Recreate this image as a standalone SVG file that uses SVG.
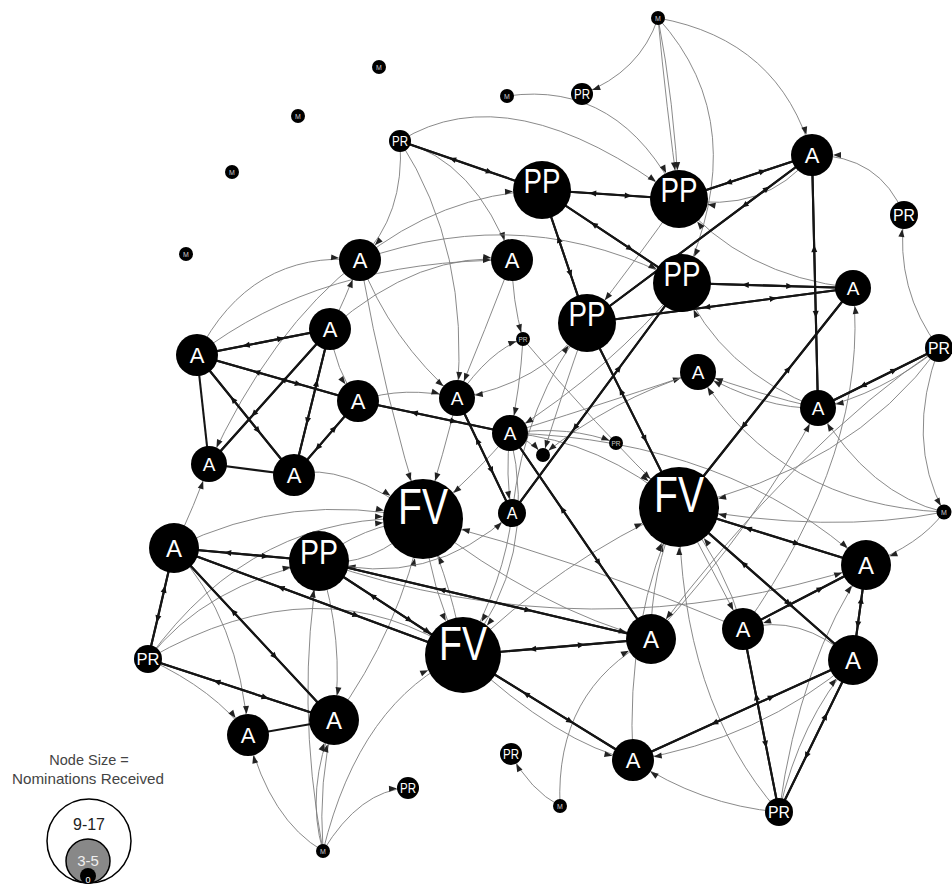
<svg xmlns="http://www.w3.org/2000/svg" width="952" height="884" viewBox="0 0 952 884">
<style>
.t{fill:none;stroke:#7d7d7d;stroke-width:0.9}
.k{fill:none;stroke:#151515;stroke-width:2.1;marker-mid:url(#mid)}
.kp{fill:none;stroke:#151515;stroke-width:2.1}
.m7{marker-end:url(#e7)}.m11{marker-end:url(#e11)}.m14{marker-end:url(#e14)}.m18{marker-end:url(#e18)}
.m21{marker-end:url(#e21)}.m25{marker-end:url(#e25)}.m29{marker-end:url(#e29)}.m38{marker-end:url(#e38)}.m40{marker-end:url(#e40)}
.node circle{fill:#000}
.node text{fill:#fff;font-family:"Liberation Sans",Arial,sans-serif;text-anchor:middle}
.mm text{fill:#ccc}
.leg{font-family:"Liberation Sans",Arial,sans-serif;text-anchor:middle}
</style>
<defs>
<marker id="mid" markerUnits="userSpaceOnUse" markerWidth="7" markerHeight="6" refX="3.5" refY="3" orient="auto" overflow="visible"><path d="M0,0L7,3L0,6z" fill="#111"/></marker>
<marker id="e7" markerUnits="userSpaceOnUse" markerWidth="8" markerHeight="6" refX="15" refY="3" orient="auto" overflow="visible"><path d="M0,0L8,3L0,6z" fill="#222"/></marker>
<marker id="e11" markerUnits="userSpaceOnUse" markerWidth="8" markerHeight="6" refX="19" refY="3" orient="auto" overflow="visible"><path d="M0,0L8,3L0,6z" fill="#222"/></marker>
<marker id="e14" markerUnits="userSpaceOnUse" markerWidth="8" markerHeight="6" refX="22" refY="3" orient="auto" overflow="visible"><path d="M0,0L8,3L0,6z" fill="#222"/></marker>
<marker id="e18" markerUnits="userSpaceOnUse" markerWidth="8" markerHeight="6" refX="26" refY="3" orient="auto" overflow="visible"><path d="M0,0L8,3L0,6z" fill="#222"/></marker>
<marker id="e21" markerUnits="userSpaceOnUse" markerWidth="8" markerHeight="6" refX="29" refY="3" orient="auto" overflow="visible"><path d="M0,0L8,3L0,6z" fill="#222"/></marker>
<marker id="e25" markerUnits="userSpaceOnUse" markerWidth="8" markerHeight="6" refX="33" refY="3" orient="auto" overflow="visible"><path d="M0,0L8,3L0,6z" fill="#222"/></marker>
<marker id="e29" markerUnits="userSpaceOnUse" markerWidth="8" markerHeight="6" refX="37" refY="3" orient="auto" overflow="visible"><path d="M0,0L8,3L0,6z" fill="#222"/></marker>
<marker id="e38" markerUnits="userSpaceOnUse" markerWidth="8" markerHeight="6" refX="46" refY="3" orient="auto" overflow="visible"><path d="M0,0L8,3L0,6z" fill="#222"/></marker>
<marker id="e40" markerUnits="userSpaceOnUse" markerWidth="8" markerHeight="6" refX="48" refY="3" orient="auto" overflow="visible"><path d="M0,0L8,3L0,6z" fill="#222"/></marker>
</defs>
<rect width="952" height="884" fill="#fff"/>
<g id="connectors">
<g id="thin">
<path class="t m11" d="M658,18 Q640,72 582,94"/>
<path class="t m21" d="M658,18 Q780,40 812,155"/>
<path class="t m29" d="M658,18 Q674,100 679,199"/>
<path class="t m29" d="M658,18 Q666,105 679,199"/>
<path class="t m29" d="M658,18 Q755,125 682,283"/>
<path class="t m29" d="M507,96 Q620,80 679,199"/>
<path class="t m29" d="M400,141 Q510,72 679,199"/>
<path class="t m21" d="M400,141 Q405,215 360,260"/>
<path class="t m21" d="M400,141 Q475,160 512,260"/>
<path class="t m18" d="M400,141 Q470,250 457,398"/>
<path class="t m29" d="M360,260 Q440,195 542,190"/>
<path class="t m21" d="M197,355 Q250,250 360,260"/>
<path class="t m21" d="M330,329 Q420,250 512,260"/>
<path class="t m21" d="M197,355 Q320,260 512,260"/>
<path class="t m29" d="M360,260 Q530,200 682,283"/>
<path class="t m7" d="M512,260 Q512,300 523,339"/>
<path class="t m29" d="M679,199 Q640,255 587,323"/>
<path class="t m29" d="M812,155 Q765,215 679,199"/>
<path class="t m21" d="M904,215 Q880,155 812,155"/>
<path class="t m14" d="M939,348 Q895,290 904,215"/>
<path class="t m29" d="M853,288 Q740,275 679,199"/>
<path class="t m40" d="M939,348 Q850,470 679,507"/>
<path class="t m18" d="M939,348 Q880,395 818,408"/>
<path class="t m25" d="M944,512 Q920,545 866,565"/>
<path class="t m18" d="M944,512 Q870,495 818,408"/>
<path class="t m18" d="M944,512 Q780,505 698,372"/>
<path class="t m40" d="M944,512 Q830,535 679,507"/>
<path class="t m18" d="M818,408 Q760,395 698,372"/>
<path class="t m18" d="M818,408 Q765,410 698,372"/>
<path class="t m18" d="M510,433 Q630,395 698,372"/>
<path class="t m29" d="M818,408 Q720,370 682,283"/>
<path class="t m18" d="M743,629 Q870,450 853,288"/>
<path class="t m25" d="M510,433 Q730,440 866,565"/>
<path class="t m40" d="M510,433 Q600,440 679,507"/>
<path class="t m40" d="M523,339 Q590,420 679,507"/>
<path class="t m7" d="M457,398 Q490,350 523,339"/>
<path class="t m18" d="M523,339 Q520,390 510,433"/>
<path class="t m7" d="M510,433 Q570,425 616,443"/>
<path class="t m7" d="M510,433 Q530,440 543,455"/>
<path class="t m7" d="M587,323 Q560,400 543,455"/>
<path class="t m7" d="M698,372 Q610,400 543,455"/>
<path class="t m14" d="M510,433 Q505,475 512,513"/>
<path class="t m29" d="M512,513 Q525,400 587,323"/>
<path class="t m18" d="M682,283 Q610,370 510,433"/>
<path class="t m18" d="M587,323 Q540,385 457,398"/>
<path class="t m18" d="M360,260 Q390,340 457,398"/>
<path class="t m18" d="M512,260 Q485,330 457,398"/>
<path class="t m18" d="M358,401 Q405,385 457,398"/>
<path class="t m21" d="M330,329 Q335,370 358,401"/>
<path class="t m21" d="M330,329 Q345,300 360,260"/>
<path class="t m18" d="M360,260 Q270,330 209,464"/>
<path class="t m40" d="M457,398 Q445,450 423,519"/>
<path class="t m40" d="M510,433 Q480,470 423,519"/>
<path class="t m40" d="M294,475 Q340,460 423,519"/>
<path class="t m40" d="M174,548 Q290,490 423,519"/>
<path class="t m40" d="M319,561 Q360,525 423,519"/>
<path class="t m29" d="M423,519 Q370,570 319,561"/>
<path class="t m40" d="M360,260 Q385,400 423,519"/>
<path class="t m40" d="M463,655 Q455,595 423,519"/>
<path class="t m40" d="M334,720 Q400,630 423,519"/>
<path class="t m40" d="M148,659 Q255,510 423,519"/>
<path class="t m40" d="M743,629 Q580,560 423,519"/>
<path class="t m14" d="M319,561 Q430,590 512,513"/>
<path class="t m38" d="M423,519 Q430,590 463,655"/>
<path class="t m38" d="M512,513 Q505,580 463,655"/>
<path class="t m38" d="M510,433 Q540,560 463,655"/>
<path class="t m38" d="M323,851 Q360,700 463,655"/>
<path class="t m11" d="M323,851 Q360,790 408,788"/>
<path class="t m21" d="M323,851 Q270,820 248,735"/>
<path class="t m25" d="M323,851 Q305,790 334,720"/>
<path class="t m25" d="M323,851 Q318,780 334,720"/>
<path class="t m29" d="M323,851 Q295,700 319,561"/>
<path class="t m11" d="M560,806 Q530,790 511,754"/>
<path class="t m25" d="M560,806 Q555,690 651,639"/>
<path class="t m25" d="M319,561 Q345,640 334,720"/>
<path class="t m18" d="M174,548 Q195,505 209,464"/>
<path class="t m21" d="M174,548 Q240,620 248,735"/>
<path class="t m21" d="M148,659 Q215,690 248,735"/>
<path class="t m29" d="M148,659 Q205,585 319,561"/>
<path class="t m38" d="M148,659 Q320,560 463,655"/>
<path class="t m21" d="M463,655 Q560,745 633,760"/>
<path class="t m40" d="M651,639 Q650,575 679,507"/>
<path class="t m40" d="M633,760 Q625,620 679,507"/>
<path class="t m40" d="M779,812 Q680,700 679,507"/>
<path class="t m40" d="M743,629 Q725,565 679,507"/>
<path class="t m40" d="M463,655 Q560,560 679,507"/>
<path class="t m21" d="M679,507 Q715,575 743,629"/>
<path class="t m21" d="M853,660 Q800,612 743,629"/>
<path class="t m21" d="M853,660 Q760,740 633,760"/>
<path class="t m21" d="M779,812 Q700,805 633,760"/>
<path class="t m25" d="M779,812 Q800,720 853,660"/>
<path class="t m25" d="M779,812 Q800,660 866,565"/>
<path class="t m18" d="M651,639 Q760,520 818,408"/>
<path class="t m25" d="M319,561 Q590,655 866,565"/>
<path class="t m25" d="M939,348 Q800,440 651,639"/>
<path class="t m7" d="M939,348 Q905,440 944,512"/>
<path class="t m25" d="M423,519 Q540,610 651,639"/>
</g>
<g id="thick">
<path class="k" d="M400,141 L489.5,171.9 L542,190"/><path class="k" d="M542,190 L452.5,159.1 L400,141"/>
<path class="k" d="M542,190 L628.3,195.7 L679,199"/><path class="k" d="M679,199 L592.7,193.3 L542,190"/>
<path class="k" d="M679,199 L762.8,171.3 L812,155"/><path class="k" d="M812,155 L728.2,182.7 L679,199"/>
<path class="k" d="M812,155 L744.5,205.4 L587,323"/><path class="k" d="M587,323 L767,188.6 L812,155"/>
<path class="k" d="M542,190 L630.2,248.6 L682,283"/><path class="k" d="M682,283 L593.8,224.4 L542,190"/>
<path class="k" d="M542,190 L570.4,273.8 L587,323"/><path class="k" d="M587,323 L558.7,239.2 L542,190"/>
<path class="k" d="M682,283 L789.7,286.2 L853,288"/><path class="k" d="M853,288 L745.3,284.9 L682,283"/>
<path class="k" d="M587,323 L773.2,298.5 L853,288"/><path class="k" d="M853,288 L706.7,307.3 L587,323"/>
<path class="k" d="M812,155 L815.8,314.4 L818,408"/><path class="k" d="M818,408 L814.2,248.6 L812,155"/>
<path class="k" d="M818,408 L894.2,370.2 L939,348"/><path class="k" d="M939,348 L862.8,385.8 L818,408"/>
<path class="k" d="M853,288 L743.4,426 L679,507"/><path class="k" d="M679,507 L788.6,369 L853,288"/>
<path class="k" d="M587,323 L645,438.9 L679,507"/><path class="k" d="M679,507 L621,391.1 L587,323"/>
<path class="k" d="M197,355 L280.8,338.6 L330,329"/><path class="k" d="M330,329 L246.2,345.4 L197,355"/>
<path class="k" d="M197,355 L298.4,384 L358,401"/><path class="k" d="M358,401 L256.6,372 L197,355"/>
<path class="kp" d="M197,355 L209,464"/>
<path class="k" d="M197,355 L258.1,430.6 L294,475"/><path class="k" d="M294,475 L232.9,399.4 L197,355"/>
<path class="k" d="M330,329 L253.8,414 L209,464"/><path class="k" d="M209,464 L285.2,379 L330,329"/>
<path class="k" d="M330,329 L307.3,421 L294,475"/><path class="k" d="M294,475 L316.7,383 L330,329"/>
<path class="kp" d="M209,464 L294,475"/>
<path class="k" d="M358,401 L317.7,447.6 L294,475"/><path class="k" d="M294,475 L334.3,428.4 L358,401"/>
<path class="k" d="M358,401 L453.8,421.2 L510,433"/><path class="k" d="M510,433 L414.2,412.8 L358,401"/>
<path class="k" d="M457,398 L491.7,470.5 L512,513"/><path class="k" d="M512,513 L477.4,440.6 L457,398"/>
<path class="k" d="M510,433 L598.8,562.8 L651,639"/><path class="k" d="M651,639 L562.2,509.2 L510,433"/>
<path class="k" d="M512,513 L619.1,368.1 L682,283"/><path class="k" d="M682,283 L574.9,427.9 L512,513"/>
<path class="k" d="M319,561 L227.7,552.8 L174,548"/><path class="k" d="M174,548 L265.4,556.2 L319,561"/>
<path class="k" d="M174,548 L356.1,615.4 L463,655"/><path class="k" d="M463,655 L280.9,587.6 L174,548"/>
<path class="k" d="M174,548 L274.8,656.4 L334,720"/><path class="k" d="M334,720 L233.2,611.6 L174,548"/>
<path class="k" d="M319,561 L409.7,620.2 L463,655"/><path class="k" d="M463,655 L372.3,595.8 L319,561"/>
<path class="k" d="M319,561 L528.2,610.1 L651,639"/><path class="k" d="M651,639 L441.8,589.9 L319,561"/>
<path class="k" d="M174,548 L157.6,618.9 L148,659"/><path class="k" d="M148,659 L164.4,589.1 L174,548"/>
<path class="k" d="M148,659 L265.2,697.4 L334,720"/><path class="k" d="M334,720 L216.8,681.6 L148,659"/>
<path class="kp" d="M248,735 L334,720"/>
<path class="k" d="M463,655 L581.4,644.9 L651,639"/><path class="k" d="M651,639 L532.6,649.1 L463,655"/>
<path class="k" d="M463,655 L570.1,721.2 L633,760"/><path class="k" d="M633,760 L525.9,693.9 L463,655"/>
<path class="k" d="M679,507 L796.8,543.5 L866,565"/><path class="k" d="M866,565 L748.2,528.5 L679,507"/>
<path class="k" d="M679,507 L788.6,603.4 L853,660"/><path class="k" d="M853,660 L743.4,563.6 L679,507"/>
<path class="k" d="M866,565 L857.8,624.9 L853,660"/><path class="k" d="M853,660 L861.2,600.2 L866,565"/>
<path class="k" d="M866,565 L788.5,605.3 L743,629"/><path class="k" d="M743,629 L820.5,588.7 L866,565"/>
<path class="k" d="M853,660 L714.4,723 L633,760"/><path class="k" d="M633,760 L771.6,697 L853,660"/>
<path class="k" d="M743,629 L765.7,744.3 L779,812"/><path class="k" d="M779,812 L756.3,696.7 L743,629"/>
<path class="k" d="M853,660 L806.4,755.8 L779,812"/><path class="k" d="M779,812 L825.6,716.2 L853,660"/>
</g>
</g>
<g id="nodes">
<g id="M1" class="node mm"><circle cx="658" cy="18" r="7"/><text x="658" y="20.5" font-size="7">M</text></g>
<g id="M2" class="node mm"><circle cx="379" cy="67" r="7"/><text x="379" y="69.5" font-size="7">M</text></g>
<g id="M3" class="node mm"><circle cx="298" cy="116" r="7"/><text x="298" y="118.5" font-size="7">M</text></g>
<g id="M4" class="node mm"><circle cx="232" cy="172" r="7"/><text x="232" y="174.5" font-size="7">M</text></g>
<g id="M5" class="node mm"><circle cx="186" cy="254" r="7"/><text x="186" y="256.5" font-size="7">M</text></g>
<g id="M6" class="node mm"><circle cx="507" cy="96" r="7"/><text x="507" y="98.5" font-size="7">M</text></g>
<g id="M7" class="node mm"><circle cx="944" cy="512" r="7.5"/><text x="944" y="514.5" font-size="7">M</text></g>
<g id="M8" class="node mm"><circle cx="323" cy="851" r="7"/><text x="323" y="853.5" font-size="7">M</text></g>
<g id="M9" class="node mm"><circle cx="560" cy="806" r="7"/><text x="560" y="808.5" font-size="7">M</text></g>
<g id="PR1" class="node"><circle cx="582" cy="94" r="11"/><text x="582" y="99" font-size="14" textLength="16" lengthAdjust="spacingAndGlyphs">PR</text></g>
<g id="PR2" class="node"><circle cx="400" cy="141" r="11"/><text x="400" y="146" font-size="14" textLength="16" lengthAdjust="spacingAndGlyphs">PR</text></g>
<g id="PR3" class="node"><circle cx="904" cy="215" r="14"/><text x="904" y="221" font-size="16.5" textLength="22" lengthAdjust="spacingAndGlyphs">PR</text></g>
<g id="PR4" class="node"><circle cx="939" cy="348" r="14"/><text x="939" y="354" font-size="16.5" textLength="22" lengthAdjust="spacingAndGlyphs">PR</text></g>
<g id="PR5" class="node mm"><circle cx="523" cy="339" r="7"/><text x="523" y="341.7" font-size="7.5" textLength="9" lengthAdjust="spacingAndGlyphs">PR</text></g>
<g id="PR6" class="node mm"><circle cx="616" cy="443" r="7"/><text x="616" y="445.7" font-size="7.5" textLength="9" lengthAdjust="spacingAndGlyphs">PR</text></g>
<g id="PR7" class="node"><circle cx="148" cy="659" r="14"/><text x="148" y="665" font-size="16.5" textLength="23" lengthAdjust="spacingAndGlyphs">PR</text></g>
<g id="PR8" class="node"><circle cx="511" cy="754" r="11"/><text x="511" y="759" font-size="14" textLength="16" lengthAdjust="spacingAndGlyphs">PR</text></g>
<g id="PR9" class="node"><circle cx="408" cy="788" r="11"/><text x="408" y="793" font-size="14" textLength="16" lengthAdjust="spacingAndGlyphs">PR</text></g>
<g id="PR10" class="node"><circle cx="779" cy="812" r="14"/><text x="779" y="818" font-size="16.5" textLength="22" lengthAdjust="spacingAndGlyphs">PR</text></g>
<g id="N0" class="node"><circle cx="543" cy="455" r="7"/></g>
<g id="A1" class="node"><circle cx="812" cy="155" r="21"/><text x="812" y="163" font-size="22">A</text></g>
<g id="A2" class="node"><circle cx="360" cy="260" r="21"/><text x="360" y="268" font-size="22">A</text></g>
<g id="A3" class="node"><circle cx="512" cy="260" r="21"/><text x="512" y="268" font-size="22">A</text></g>
<g id="A4" class="node"><circle cx="853" cy="288" r="18"/><text x="853" y="295" font-size="19">A</text></g>
<g id="A5" class="node"><circle cx="330" cy="329" r="21"/><text x="330" y="337" font-size="22">A</text></g>
<g id="A6" class="node"><circle cx="197" cy="355" r="21"/><text x="197" y="363" font-size="22">A</text></g>
<g id="A7" class="node"><circle cx="698" cy="372" r="18"/><text x="698" y="379" font-size="19">A</text></g>
<g id="A8" class="node"><circle cx="358" cy="401" r="21"/><text x="358" y="409" font-size="22">A</text></g>
<g id="A9" class="node"><circle cx="457" cy="398" r="18"/><text x="457" y="405" font-size="19">A</text></g>
<g id="A10" class="node"><circle cx="818" cy="408" r="18"/><text x="818" y="415" font-size="19">A</text></g>
<g id="A11" class="node"><circle cx="510" cy="433" r="18"/><text x="510" y="440" font-size="19">A</text></g>
<g id="A12" class="node"><circle cx="209" cy="464" r="18"/><text x="209" y="471" font-size="19">A</text></g>
<g id="A13" class="node"><circle cx="294" cy="475" r="21"/><text x="294" y="483" font-size="22">A</text></g>
<g id="A14" class="node"><circle cx="512" cy="513" r="14"/><text x="512" y="519" font-size="16">A</text></g>
<g id="A15" class="node"><circle cx="174" cy="548" r="25"/><text x="174" y="557" font-size="24">A</text></g>
<g id="A16" class="node"><circle cx="866" cy="565" r="25"/><text x="866" y="574" font-size="24">A</text></g>
<g id="A17" class="node"><circle cx="743" cy="629" r="21"/><text x="743" y="637" font-size="22">A</text></g>
<g id="A18" class="node"><circle cx="651" cy="639" r="25"/><text x="651" y="648" font-size="24">A</text></g>
<g id="A19" class="node"><circle cx="853" cy="660" r="25"/><text x="853" y="669" font-size="24">A</text></g>
<g id="A20" class="node"><circle cx="248" cy="735" r="21"/><text x="248" y="743" font-size="22">A</text></g>
<g id="A21" class="node"><circle cx="334" cy="720" r="25"/><text x="334" y="729" font-size="24">A</text></g>
<g id="A22" class="node"><circle cx="633" cy="760" r="21"/><text x="633" y="768" font-size="22">A</text></g>
<g id="PP1" class="node"><circle cx="542" cy="190" r="29"/><text x="542" y="193" font-size="35" textLength="37" lengthAdjust="spacingAndGlyphs">PP</text></g>
<g id="PP2" class="node"><circle cx="679" cy="199" r="29"/><text x="679" y="202" font-size="35" textLength="37" lengthAdjust="spacingAndGlyphs">PP</text></g>
<g id="PP3" class="node"><circle cx="682" cy="283" r="29"/><text x="682" y="286" font-size="35" textLength="37" lengthAdjust="spacingAndGlyphs">PP</text></g>
<g id="PP4" class="node"><circle cx="587" cy="323" r="29"/><text x="587" y="326" font-size="35" textLength="37" lengthAdjust="spacingAndGlyphs">PP</text></g>
<g id="PP5" class="node"><circle cx="319" cy="561" r="30"/><text x="319" y="564" font-size="35" textLength="38" lengthAdjust="spacingAndGlyphs">PP</text></g>
<g id="FV1" class="node"><circle cx="423" cy="519" r="40"/><text x="423" y="524" font-size="50" textLength="50" lengthAdjust="spacingAndGlyphs">FV</text></g>
<g id="FV2" class="node"><circle cx="679" cy="507" r="40"/><text x="679" y="512" font-size="50" textLength="50" lengthAdjust="spacingAndGlyphs">FV</text></g>
<g id="FV3" class="node"><circle cx="463" cy="655" r="38"/><text x="463" y="660" font-size="48" textLength="48" lengthAdjust="spacingAndGlyphs">FV</text></g>
</g>
<g id="legend">
<text class="leg" x="89" y="765" font-size="14.5" fill="#444">Node Size =</text>
<text class="leg" x="88" y="784" font-size="14.5" fill="#444" textLength="152" lengthAdjust="spacingAndGlyphs">Nominations Received</text>
<circle cx="89" cy="841" r="42" fill="#fff" stroke="#000" stroke-width="1.5"/>
<text class="leg" x="89" y="830" font-size="16" fill="#222">9-17</text>
<circle cx="88" cy="861" r="22" fill="#888" stroke="#000" stroke-width="1.5"/>
<text class="leg" x="88" y="866" font-size="15" fill="#eee">3-5</text>
<circle cx="88" cy="876" r="8" fill="#000"/>
<text class="leg" x="88" y="883" font-size="9" fill="#fff">0</text>
</g>
</svg>
